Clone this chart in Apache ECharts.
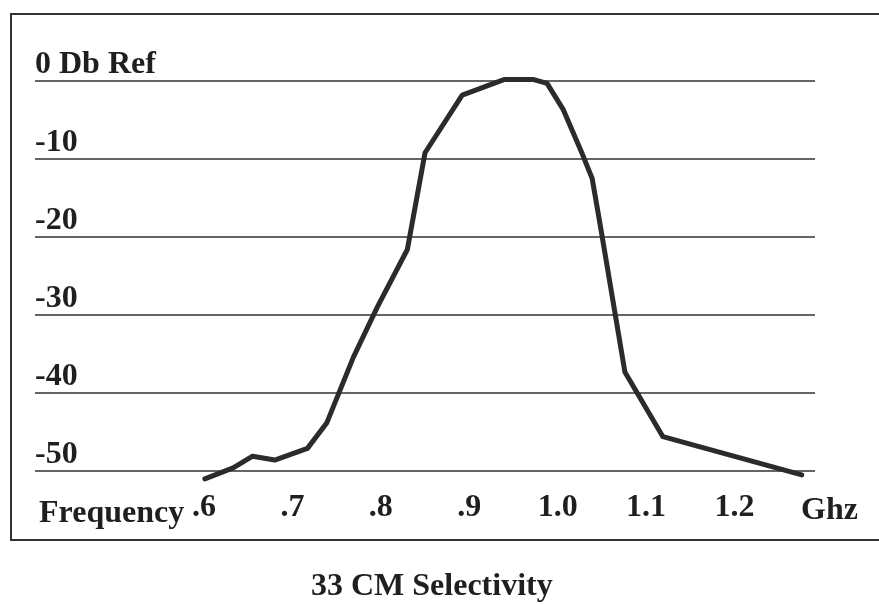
<!DOCTYPE html>
<html>
<head>
<meta charset="utf-8">
<title>33 CM Selectivity</title>
<script src="https://cdn.jsdelivr.net/npm/echarts@6/dist/echarts.min.js"></script>
<style>
  html, body { margin: 0; padding: 0; background: #fff; }
  #chart { width: 879px; height: 605px; }
</style>
</head>
<body>
<div id="chart"></div>
<script>
// Filter response: frequency (GHz) vs. relative level (dB)
const freqGhz = [0.601, 0.633, 0.655, 0.680, 0.717, 0.739, 0.769, 0.796, 0.830, 0.850,
                 0.892, 0.940, 0.972, 0.988, 1.006, 1.028, 1.039, 1.048, 1.076, 1.119, 1.276];
const levelDb = [-51.0, -49.6, -48.1, -48.6, -47.1, -43.8, -35.4, -29.0, -21.6, -9.2,
                 -1.8, 0.2, 0.2, -0.3, -3.6, -9.4, -12.5, -18.4, -37.3, -45.6, -50.5];

// Axis ticks
const freqTicks = [0.6, 0.7, 0.8, 0.9, 1.0, 1.1, 1.2];
const freqTickLabels = ['.6', '.7', '.8', '.9', '1.0', '1.1', '1.2'];
const levelTicks = [-50, -40, -30, -20, -10, 0];
const levelTickLabels = ['-50', '-40', '-30', '-20', '-10', '0 Db Ref'];

const FONT = 'Liberation Serif, Times New Roman, serif';
const INK = '#1f1f1f';
const FS = 32;

const chart = echarts.init(document.getElementById('chart'), null, { renderer: 'canvas' });

chart.setOption({
  backgroundColor: '#ffffff',
  animation: false,
  title: [
    {
      text: 'Frequency',
      left: 39, top: 498, padding: 0,
      textStyle: { fontFamily: FONT, fontWeight: 'bold', fontSize: FS, color: INK }
    },
    {
      text: 'Ghz',
      left: 801, top: 495, padding: 0,
      textStyle: { fontFamily: FONT, fontWeight: 'bold', fontSize: FS, color: INK }
    },
    {
      text: '33 CM Selectivity',
      left: 311, top: 571, padding: 0,
      textStyle: { fontFamily: FONT, fontWeight: 'bold', fontSize: FS, color: INK }
    }
  ],
  graphic: [
    {
      type: 'rect',
      shape: { x: 11, y: 14, width: 900, height: 526 },
      style: { fill: 'none', stroke: '#333', lineWidth: 2 },
      silent: true
    }
  ],
  grid: { left: 35, right: 64, top: 81, bottom: 134, containLabel: false },
  xAxis: {
    type: 'value',
    min: 0.4089,
    max: 1.2910,
    axisLine: { show: false },
    axisTick: { show: false },
    splitLine: { show: false },
    axisLabel: {
      customValues: freqTicks,
      margin: 21,
      fontFamily: FONT, fontWeight: 'bold', fontSize: FS, color: INK,
      formatter: function (v) {
        const i = freqTicks.findIndex(t => Math.abs(t - v) < 1e-6);
        return i >= 0 ? freqTickLabels[i] : '';
      }
    }
  },
  yAxis: {
    type: 'value',
    min: -50,
    max: 0,
    interval: 10,
    axisLine: { show: false },
    axisTick: { show: false },
    splitLine: { show: true, lineStyle: { color: '#333', width: 1.5 } },
    axisLabel: {
      inside: true,
      margin: 0,
      align: 'left',
      verticalAlign: 'bottom',
      fontFamily: FONT, fontWeight: 'bold', fontSize: FS, color: INK,
      formatter: function (v) {
        const i = levelTicks.indexOf(v);
        return i >= 0 ? levelTickLabels[i] : '';
      }
    }
  },
  series: [
    {
      type: 'line',
      data: freqGhz.map((f, i) => [f, levelDb[i]]),
      showSymbol: false,
      symbol: 'none',
      clip: false,
      smooth: false,
      lineStyle: { color: '#2b2b2b', width: 5, join: 'round', cap: 'round' }
    }
  ]
});
</script>
</body>
</html>
